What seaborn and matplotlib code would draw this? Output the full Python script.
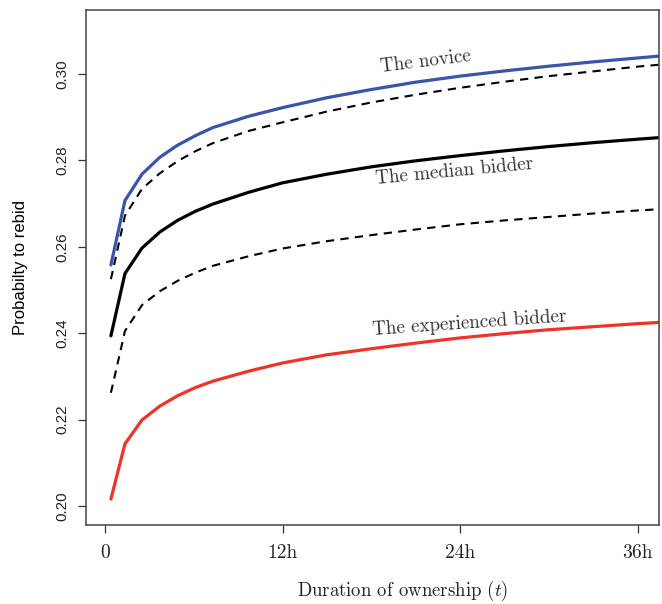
import numpy as np
import pandas as pd
import matplotlib
matplotlib.use("Agg")
import matplotlib.pyplot as plt
import seaborn as sns

# =====================
# Data
# =====================
hours = [0.4, 1.35, 2.5, 3.7, 4.9, 6.1, 7.3, 9.7, 12, 15, 18, 21, 24, 27, 30, 33, 36, 38]

novice = [0.2558, 0.2707, 0.2768, 0.2807, 0.2835, 0.2857, 0.2876, 0.2902, 0.2922,
          0.2945, 0.2964, 0.2981, 0.2995, 0.3007, 0.3018, 0.3028, 0.3037, 0.3043]
upper_band = [0.2525, 0.2672, 0.2734, 0.2770, 0.2798, 0.2821, 0.2840, 0.2868, 0.2888,
              0.2913, 0.2934, 0.2952, 0.2968, 0.2982, 0.2995, 0.3006, 0.3017, 0.3023]
median = [0.2394, 0.2538, 0.2597, 0.2634, 0.2661, 0.2682, 0.2699, 0.2726, 0.2748,
          0.2768, 0.2785, 0.2799, 0.2811, 0.2822, 0.2832, 0.2841, 0.2849, 0.2854]
lower_band = [0.2262, 0.2405, 0.2465, 0.2497, 0.2521, 0.2540, 0.2556, 0.2578, 0.2596,
              0.2613, 0.2627, 0.2640, 0.2652, 0.2661, 0.2669, 0.2677, 0.2684, 0.2688]
experienced = [0.2016, 0.2144, 0.2199, 0.2231, 0.2255, 0.2274, 0.2289, 0.2312, 0.2331,
               0.2350, 0.2364, 0.2377, 0.2389, 0.2399, 0.2408, 0.2415, 0.2422, 0.2426]

x_ticks = [0, 12, 24, 36]
x_ticklabels = ["0", "12h", "24h", "36h"]
y_ticks = [0.20, 0.22, 0.24, 0.26, 0.28, 0.30]
y_ticklabels = ["0.20", "0.22", "0.24", "0.26", "0.28", "0.30"]

# =====================
# Style
# =====================
sns.set_style("ticks")
plt.rcParams["font.family"] = ["Liberation Sans", "DejaVu Sans"]
plt.rcParams["mathtext.fontset"] = "cm"

BLUE = "#3b54a8"
RED = "#ee3328"
SERIF = ["cmr10", "DejaVu Serif"]

fig = plt.figure(figsize=(6.62, 6.04), dpi=100)
ax = fig.add_axes([0.130, 0.1308, 0.8655, 0.8526])

df = pd.DataFrame({"t": hours, "novice": novice, "upper": upper_band,
                   "median": median, "lower": lower_band, "exp": experienced})

sns.lineplot(data=df, x="t", y="upper", ax=ax, color="black", lw=1.5,
             linestyle=(0, (4, 3)))
sns.lineplot(data=df, x="t", y="lower", ax=ax, color="black", lw=1.5,
             linestyle=(0, (4, 3)))
sns.lineplot(data=df, x="t", y="novice", ax=ax, color=BLUE, lw=2.3)
sns.lineplot(data=df, x="t", y="median", ax=ax, color="black", lw=2.3)
sns.lineplot(data=df, x="t", y="exp", ax=ax, color=RED, lw=2.3)

ax.set_xlim(-1.28, 37.45)
ax.set_ylim(0.1956, 0.3148)

ax.set_xticks(x_ticks)
ax.set_xticklabels(x_ticklabels, family=SERIF, fontsize=14, color="#222222")
ax.set_yticks(y_ticks)
ax.set_yticklabels(y_ticklabels, rotation=90, va="center", fontsize=11, color="#222222")
ax.tick_params(axis="both", length=6, width=0.9, color="#333333", direction="out")
ax.tick_params(axis="x", pad=8)
ax.tick_params(axis="y", pad=6)

for sp in ax.spines.values():
    sp.set_visible(True)
    sp.set_color("#444444")
    sp.set_linewidth(1.1)

ax.set_xlabel("")
fig.text(403 / 662, 1 - 591 / 604, r"Duration of ownership $(t)$", family=SERIF,
         fontsize=13.5, color="#222222", ha="center", va="center")
ax.set_ylabel("Probabilty to rebid", fontsize=12, color="black", labelpad=20)

# curve labels
ax.text(21.65, 0.3029, "The novice", family=SERIF, fontsize=13.7, color="#333333",
        rotation=7, ha="center", va="center", rotation_mode="anchor")
ax.text(23.6, 0.2774, "The median bidder", family=SERIF, fontsize=13.7, color="#333333",
        rotation=5.5, ha="center", va="center", rotation_mode="anchor")
ax.text(24.6, 0.2423, "The experienced bidder", family=SERIF, fontsize=13.7, color="#333333",
        rotation=4, ha="center", va="center", rotation_mode="anchor")

fig.savefig("out.png", dpi=100)
